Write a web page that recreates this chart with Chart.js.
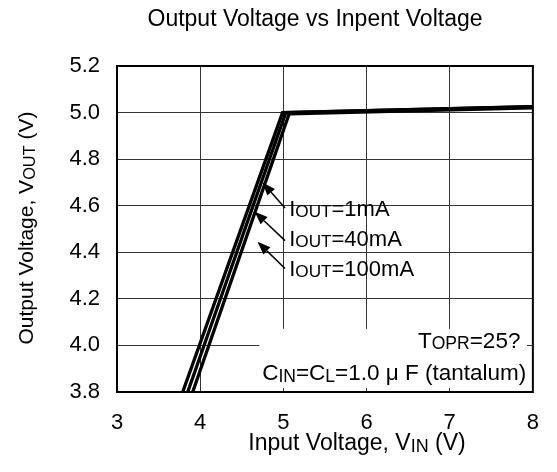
<!DOCTYPE html>
<html lang="en">
<head>
<meta charset="UTF-8">
<title>Output Voltage vs Inpent Voltage</title>
<script src="https://cdn.jsdelivr.net/npm/chart.js"></script>
<style>
  html, body { margin: 0; padding: 0; background: #fff; }
</style>
</head>
<body>
<canvas id="grafico" width="557" height="472"></canvas>
<script>
// VIN (V) vs VOUT (V) for each load current
const vin1mA    = [3.79, 4.99, 8.00];
const vout1mA   = [3.80, 5.00, 5.025];
const vin40mA   = [3.85, 5.03, 8.00];
const vout40mA  = [3.80, 5.00, 5.025];
const vin100mA  = [3.91, 5.07, 8.00];
const vout100mA = [3.80, 4.995, 5.02];

const xTicks = [3, 4, 5, 6, 7, 8];
const yTicks = [3.8, 4.0, 4.2, 4.4, 4.6, 4.8, 5.0, 5.2];

// current labels with their arrows (data units)
const currentText = ['=1mA', '=40mA', '=100mA'];
const labelX = 5.07;
const labelY = [4.557, 4.428, 4.299];
const arrowTail = [[5.02, 4.59], [5.02, 4.45], [5.02, 4.33]];
const arrowTip  = [[4.75, 4.70], [4.655, 4.574], [4.69, 4.445]];

// test conditions box (data units)
const noteBox = { x0: 4.71, x1: 7.93, y0: 3.817, y1: 4.071 };

const FONT = 'Arial, "Liberation Sans", sans-serif';

function toPts(xs, ys) {
  return xs.map((x, i) => ({ x: x, y: ys[i] }));
}

// draws text runs, [text, isSub], from a baseline
function richText(ctx, parts, x, y, size, align) {
  const subSize = size * 0.78;
  let w = 0;
  parts.forEach(p => {
    ctx.font = (p[1] ? subSize : size) + 'px ' + FONT;
    w += ctx.measureText(p[0]).width;
  });
  let cx = x;
  if (align === 'center') cx = x - w / 2;
  if (align === 'right') cx = x - w;
  ctx.textAlign = 'left';
  ctx.textBaseline = 'alphabetic';
  ctx.fillStyle = '#000';
  parts.forEach(p => {
    ctx.font = (p[1] ? subSize : size) + 'px ' + FONT;
    ctx.fillText(p[0], cx, y + (p[1] ? 1.5 : 0));
    cx += ctx.measureText(p[0]).width;
  });
}

function arrow(ctx, x0, y0, x1, y1) {
  const a = Math.atan2(y1 - y0, x1 - x0);
  const len = 13, half = 5;
  const bx = x1 - len * Math.cos(a), by = y1 - len * Math.sin(a);
  ctx.strokeStyle = '#000';
  ctx.lineWidth = 1.5;
  ctx.beginPath();
  ctx.moveTo(x0, y0);
  ctx.lineTo(bx, by);
  ctx.stroke();
  ctx.fillStyle = '#000';
  ctx.beginPath();
  ctx.moveTo(x1, y1);
  ctx.lineTo(bx + half * Math.sin(a), by - half * Math.cos(a));
  ctx.lineTo(bx - half * Math.sin(a), by + half * Math.cos(a));
  ctx.closePath();
  ctx.fill();
}

const decorations = {
  id: 'decorations',
  beforeDatasetsDraw(chart) {
    const { ctx, scales: { x, y } } = chart;
    // white panel behind the test conditions
    ctx.save();
    ctx.fillStyle = '#fff';
    const l = x.getPixelForValue(noteBox.x0), r = x.getPixelForValue(noteBox.x1);
    const t = y.getPixelForValue(noteBox.y1), b = y.getPixelForValue(noteBox.y0);
    ctx.fillRect(l, t, r - l, b - t);
    ctx.restore();
  },
  afterDatasetsDraw(chart) {
    const { ctx, chartArea: a, scales: { x, y } } = chart;
    ctx.save();
    // plot frame
    ctx.strokeStyle = '#000';
    ctx.lineWidth = 2;
    ctx.strokeRect(a.left, a.top, a.right - a.left, a.bottom - a.top);

    // arrows and load current labels
    for (let i = 0; i < currentText.length; i++) {
      arrow(ctx,
        x.getPixelForValue(arrowTail[i][0]), y.getPixelForValue(arrowTail[i][1]),
        x.getPixelForValue(arrowTip[i][0]), y.getPixelForValue(arrowTip[i][1]));
      richText(ctx, [['I', false], ['OUT', true], [currentText[i], false]],
        x.getPixelForValue(labelX), y.getPixelForValue(labelY[i]), 22, 'left');
    }

    // test conditions
    richText(ctx, [['T', false], ['OPR', true], ['=25?', false]],
      x.getPixelForValue(7.85), y.getPixelForValue(3.989), 22.5, 'right');
    richText(ctx, [['C', false], ['IN', true], ['=C', false], ['L', true], ['=1.0 \u03bc F (tantalum)', false]],
      x.getPixelForValue(7.92), y.getPixelForValue(3.851), 22.5, 'right');
    ctx.restore();
  },
  afterDraw(chart) {
    const { ctx } = chart;
    ctx.save();
    richText(ctx, [['Output Voltage vs Inpent Voltage', false]], 315, 26, 23, 'center');
    richText(ctx, [['Input Voltage, V', false], ['IN', true], [' (V)', false]], 357, 450, 23, 'center');
    ctx.translate(33, 228);
    ctx.rotate(-Math.PI / 2);
    richText(ctx, [['Output Voltage, V', false], ['OUT', true], [' (V)', false]], 0, 0, 21, 'center');
    ctx.restore();
  }
};

const lineStyle = {
  borderColor: '#000',
  borderWidth: 3.3,
  borderJoinStyle: 'miter',
  pointRadius: 0,
  showLine: true,
  fill: false
};

new Chart(document.getElementById('grafico'), {
  type: 'scatter',
  data: {
    datasets: [
      Object.assign({ label: 'IOUT=1mA', data: toPts(vin1mA, vout1mA) }, lineStyle),
      Object.assign({ label: 'IOUT=40mA', data: toPts(vin40mA, vout40mA) }, lineStyle),
      Object.assign({ label: 'IOUT=100mA', data: toPts(vin100mA, vout100mA) }, lineStyle)
    ]
  },
  options: {
    responsive: false,
    animation: false,
    devicePixelRatio: 1,
    layout: { padding: { left: 0, top: 66, right: 16, bottom: 0 } },
    plugins: {
      legend: { display: false },
      tooltip: { enabled: false }
    },
    scales: {
      x: {
        type: 'linear',
        min: 3,
        max: 8,
        afterBuildTicks: s => { s.ticks = xTicks.map(v => ({ value: v })); },
        afterFit: s => { s.height = 80; },
        ticks: { color: '#000', padding: 18, font: { size: 22, family: FONT } },
        grid: { color: '#333', lineWidth: 1, drawTicks: false },
        border: { display: false }
      },
      y: {
        type: 'linear',
        min: 3.8,
        max: 5.2,
        afterBuildTicks: s => { s.ticks = yTicks.map(v => ({ value: v })); },
        afterFit: s => { s.width = 117; },
        ticks: {
          color: '#000',
          padding: 17,
          font: { size: 22, family: FONT },
          callback: v => v.toFixed(1)
        },
        grid: { color: '#333', lineWidth: 1, drawTicks: false },
        border: { display: false }
      }
    }
  },
  plugins: [decorations]
});
</script>
</body>
</html>
